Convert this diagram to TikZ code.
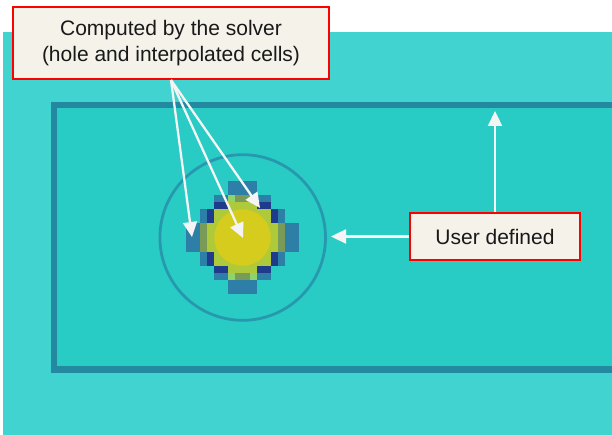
\documentclass[tikz,border=0pt]{standalone}
\usepackage{fontspec}
\setmainfont{Liberation Sans}
\usetikzlibrary{arrows.meta,shadows}

\definecolor{fieldteal}{HTML}{41D3CF}
\definecolor{boxteal}{HTML}{29CBC5}
\definecolor{rimteal}{HTML}{2389A0}
\definecolor{ringblue}{HTML}{2799AF}
\definecolor{cellsteel}{HTML}{2E7FA8}
\definecolor{cellnavy}{HTML}{1F3C8C}
\definecolor{cellolive}{HTML}{7A9A58}
\definecolor{celllight}{HTML}{8ED46A}
\definecolor{cellyg}{HTML}{AEC93A}
\definecolor{cellyellow}{HTML}{D6CC1E}
\definecolor{notefill}{HTML}{F5F2EA}
\definecolor{notered}{HTML}{FF0000}
\definecolor{pointer}{HTML}{F4F4F4}

\tikzset{
  note/.style={draw=notered, line width=2pt, fill=notefill, align=center,
    text=black!90, inner sep=0pt,
    font=\fontsize{21}{26.5}\selectfont,
    drop shadow={shadow xshift=1.2pt, shadow yshift=-1.2pt, opacity=0.45, fill=black!70}},
  pointerarrow/.style={draw=pointer, line width=2.3pt,
    -{Triangle[length=15pt,width=14pt]}},
}

\begin{document}
\begin{tikzpicture}[x=1pt,y=-1pt]
\useasboundingbox (0,0) rectangle (612,435);
\fill[white] (0,0) rectangle (612,435);

% field background
\fill[fieldteal] (3,32) rectangle (612,435);

% user defined region (its right side runs past the page)
\filldraw[fill=boxteal, draw=rimteal, line width=6.5pt] (54,105) rectangle (630,369.5);

% outer ring of the hole
\draw[ringblue, line width=2.8pt] (242.7,237.5) circle[radius=82.8];

% cells computed by the solver
\begin{scope}[shift={(186,181)}, x=7.0625pt, y=-7.0625pt]
  % yellow-green body
  \fill[cellyg] (6,3) rectangle (10,4);
  \fill[cellyg] (6,12) rectangle (10,13);
  \fill[cellyg] (4,4) rectangle (12,6);
  \fill[cellyg] (4,10) rectangle (12,12);
  \fill[cellyg] (3,6) rectangle (13,10);
  % steel blue rim
  \fill[cellsteel] (6,0) rectangle (10,2);
  \fill[cellsteel] (6,14) rectangle (10,16);
  \fill[cellsteel] (4,2) rectangle (6,3);
  \fill[cellsteel] (10,2) rectangle (12,3);
  \fill[cellsteel] (4,13) rectangle (6,14);
  \fill[cellsteel] (10,13) rectangle (12,14);
  \fill[cellsteel] (2,4) rectangle (3,6);
  \fill[cellsteel] (13,4) rectangle (14,6);
  \fill[cellsteel] (2,10) rectangle (3,12);
  \fill[cellsteel] (13,10) rectangle (14,12);
  \fill[cellsteel] (0,6) rectangle (2,10);
  \fill[cellsteel] (14,6) rectangle (16,10);
  % navy corners
  \fill[cellnavy] (4,3) rectangle (6,4);
  \fill[cellnavy] (10,3) rectangle (12,4);
  \fill[cellnavy] (4,12) rectangle (6,13);
  \fill[cellnavy] (10,12) rectangle (12,13);
  \fill[cellnavy] (3,4) rectangle (4,6);
  \fill[cellnavy] (12,4) rectangle (13,6);
  \fill[cellnavy] (3,10) rectangle (4,12);
  \fill[cellnavy] (12,10) rectangle (13,12);
  % light green and olive
  \fill[celllight] (6,2) rectangle (7,3);
  \fill[celllight] (9,2) rectangle (10,3);
  \fill[celllight] (6,13) rectangle (7,14);
  \fill[celllight] (9,13) rectangle (10,14);
  \fill[cellolive] (7,2) rectangle (9,3);
  \fill[cellolive] (7,13) rectangle (9,14);
  \fill[cellolive] (2,6) rectangle (3,10);
  \fill[cellolive] (13,6) rectangle (14,10);
  % hole
  \fill[cellyellow] (8,8) circle[radius=4];
\end{scope}

% labels
\node[note, minimum width=316pt, minimum height=72pt] (solver) at (171,43)
  {Computed by the solver\\(hole and interpolated cells)};
\node[note, minimum width=170pt, minimum height=47pt] (user) at (495,236.5)
  {User defined};

% arrow targets
\coordinate (edgecell) at (192,237);
\coordinate (holecentre) at (243,238);
\coordinate (topcell) at (260,208);
\coordinate (rimtop) at (495,111);
\coordinate (ringright) at (331,236.5);

\draw[pointerarrow] (solver.south) -- (edgecell);
\draw[pointerarrow] (solver.south) -- (holecentre);
\draw[pointerarrow] (solver.south) -- (topcell);
\draw[pointerarrow] (user.north) -- (rimtop);
\draw[pointerarrow] (user.west) -- (ringright);
\end{tikzpicture}
\end{document}
